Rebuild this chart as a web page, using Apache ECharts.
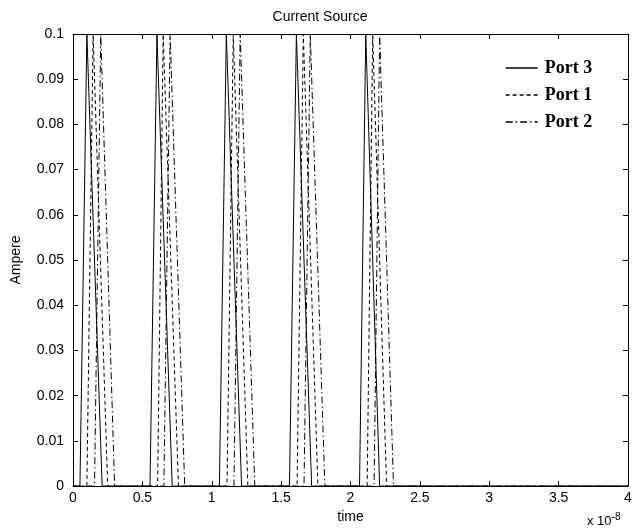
<!DOCTYPE html>
<html>
<head>
<meta charset="utf-8">
<script src="https://cdn.jsdelivr.net/npm/echarts@6/dist/echarts.min.js"></script>
<style>
  html, body { margin: 0; padding: 0; background: #fff; }
  #chart { width: 640px; height: 529px; }
</style>
</head>
<body>
<div id="chart"></div>
<script>
// time in units of 1e-8 s, current in A
var xTicks = [0, 0.5, 1, 1.5, 2, 2.5, 3, 3.5, 4];

var port3 = [
    [0, 0], [0.05, 0], [0.10, 0.1], [0.105, 0.1], [0.21, 0],
    [0.555, 0], [0.605, 0.1], [0.61, 0.1], [0.715, 0],
    [1.055, 0], [1.105, 0.1], [1.11, 0.1], [1.215, 0],
    [1.56, 0], [1.61, 0.1], [1.615, 0.1], [1.72, 0],
    [2.065, 0], [2.11, 0.1], [2.115, 0.1], [2.21, 0],
    [4, 0]
];
var port1 = [
    [0, 0], [0.10, 0], [0.145, 0.1], [0.155, 0.1], [0.25, 0],
    [0.61, 0], [0.65, 0.1], [0.655, 0.1], [0.76, 0],
    [1.11, 0], [1.155, 0.1], [1.16, 0.1], [1.26, 0],
    [1.615, 0], [1.66, 0.1], [1.665, 0.1], [1.765, 0],
    [2.12, 0], [2.16, 0.1], [2.165, 0.1], [2.26, 0],
    [4, 0]
];
var port2 = [
    [0, 0], [0.155, 0], [0.20, 0.1], [0.205, 0.1], [0.30, 0],
    [0.655, 0], [0.70, 0.1], [0.705, 0.1], [0.805, 0],
    [1.16, 0], [1.205, 0.1], [1.21, 0.1], [1.31, 0],
    [1.665, 0], [1.71, 0.1], [1.715, 0.1], [1.815, 0],
    [2.17, 0], [2.21, 0.1], [2.215, 0.1], [2.31, 0],
    [4, 0]
];

var chart = echarts.init(document.getElementById('chart'));

var font = 'Liberation Sans, Arial, sans-serif';

function axisLine() {
    return { show: true, onZero: false, lineStyle: { color: '#000', width: 1 } };
}
function tickIn() {
    return { show: true, inside: true, length: 5, lineStyle: { color: '#000', width: 1 } };
}

function lineSeries(name, data, type) {
    return {
        name: name,
        type: 'line',
        data: data,
        symbol: 'none',
        showSymbol: false,
        animation: false,
        clip: true,
        lineStyle: { color: '#000', width: 1, type: type },
        itemStyle: { color: '#000' }
    };
}

var option = {
    backgroundColor: '#fff',
    animation: false,
    title: {
        text: 'Current Source',
        left: 'center',
        top: 5,
        textStyle: { fontFamily: font, fontSize: 14, fontWeight: 'normal', color: '#000' }
    },
    grid: { left: 73, right: 12, top: 34, bottom: 33 },
    legend: {
        orient: 'vertical',
        left: 500,
        top: 54,
        itemWidth: 32,
        itemHeight: 10,
        itemGap: 9,
        itemStyle: { opacity: 0, borderWidth: 0 },
        lineStyle: { width: 1.3, color: '#000' },
        data: ['Port 3', 'Port 1', 'Port 2'],
        textStyle: { fontFamily: 'Liberation Serif, Times New Roman, serif', fontSize: 18, fontWeight: 'bold', color: '#000', padding: [0, 0, 0, 2] }
    },
    xAxis: [{
        type: 'value',
        position: 'bottom',
        min: 0, max: 4, interval: 0.5,
        name: 'time',
        nameLocation: 'middle',
        nameGap: 21,
        nameTextStyle: { fontFamily: font, fontSize: 14, color: '#000' },
        axisLine: axisLine(),
        axisTick: tickIn(),
        splitLine: { show: false },
        axisLabel: {
            fontFamily: font, fontSize: 14, color: '#000', margin: 5,
            formatter: function (v) { return xTicks.indexOf(v) >= 0 ? String(v) : ''; }
        }
    }, {
        type: 'value', position: 'top',
        min: 0, max: 4, interval: 0.5,
        axisLine: axisLine(), axisTick: tickIn(),
        axisLabel: { show: false }, splitLine: { show: false }
    }],
    yAxis: [{
        type: 'value',
        position: 'left',
        min: 0, max: 0.1, interval: 0.01,
        name: 'Ampere',
        nameLocation: 'middle',
        nameGap: 50,
        nameTextStyle: { fontFamily: font, fontSize: 14, color: '#000' },
        axisLine: axisLine(),
        axisTick: tickIn(),
        splitLine: { show: false },
        axisLabel: {
            fontFamily: font, fontSize: 14, color: '#000', margin: 9,
            formatter: function (v) { return String(+v.toFixed(2)); }
        }
    }, {
        type: 'value', position: 'right',
        min: 0, max: 0.1, interval: 0.01,
        axisLine: axisLine(), axisTick: tickIn(),
        axisLabel: { show: false }, splitLine: { show: false }
    }],
    graphic: [{
        type: 'text',
        left: 587,
        top: 512,
        style: {
            text: 'x 10{s|-8}',
            rich: { s: { fontFamily: font, fontSize: 10, verticalAlign: 'top', padding: [0, 0, 8, 0], color: '#000' } },
            font: '13px ' + font,
            fill: '#000'
        }
    }],
    series: [
        lineSeries('Port 3', port3, 'solid'),
        lineSeries('Port 1', port1, [4, 3]),
        lineSeries('Port 2', port2, [7, 3, 1.5, 3])
    ]
};

chart.setOption(option);
</script>
</body>
</html>
